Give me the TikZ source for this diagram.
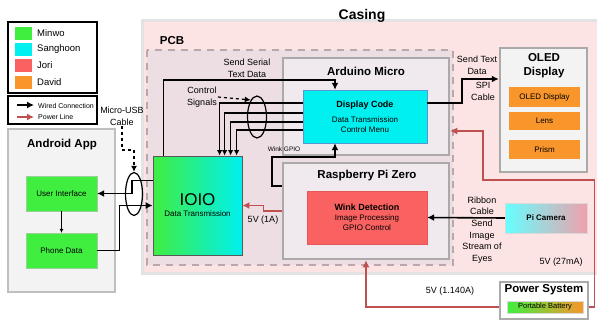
\documentclass[tikz,border=0pt]{standalone}
\usepackage{fontspec}
\setmainfont{Liberation Sans}
\usetikzlibrary{arrows.meta,shapes.geometric}

\definecolor{minwogreen}{RGB}{64,238,64}
\definecolor{sanghooncyan}{RGB}{0,240,240}
\definecolor{jorired}{RGB}{250,98,98}
\definecolor{davidorange}{RGB}{248,150,44}
\definecolor{casingpink}{RGB}{252,228,228}
\definecolor{casingedge}{RGB}{228,226,226}
\definecolor{pcbmauve}{RGB}{236,222,226}
\definecolor{pcbedge}{RGB}{186,166,172}
\definecolor{boardgray}{RGB}{240,234,238}
\definecolor{edgegray}{RGB}{170,170,170}
\definecolor{appgray}{RGB}{243,243,243}
\definecolor{powerred}{RGB}{192,80,80}
\definecolor{campink}{RGB}{240,160,172}

\tikzset{
  box/.style={draw=edgegray, line width=2.5pt, fill=boardgray, inner sep=0pt},
  part/.style={inner sep=0pt, align=center, font=\fontsize{8}{10}\selectfont},
  title/.style={font=\bfseries\fontsize{11.5}{13}\selectfont, align=center, inner sep=0pt},
  lbl/.style={font=\fontsize{9}{11.6}\selectfont, align=center, inner sep=1pt},
  wire/.style={-{Latex[length=7pt,width=7pt]}, line width=1.6pt},
  pline/.style={-{Latex[length=7pt,width=7pt]}, powerred, line width=1.3pt},
  sig/.style={-{Latex[length=6pt,width=6pt]}, line width=1.2pt, dashed},
}

\begin{document}
\begin{tikzpicture}[x=1pt, y=-1pt]
  \useasboundingbox (0,0) rectangle (597,322);

  % legend
  \draw[line width=1.5pt, fill=white] (8,22) rectangle (97,93);
  \foreach \y/\c/\n in {33.5/minwogreen/Minwo, 49.5/sanghooncyan/Sanghoon,
                        65.5/jorired/Jori, 82/davidorange/David} {
    \fill[\c] (15,\y-6.5) rectangle (32,\y+6.5);
    \node[anchor=west, inner sep=0pt, font=\fontsize{9.5}{11}\selectfont] at (37,\y) {\n};
  }
  \draw[line width=1.5pt, fill=white] (8,96) rectangle (97,124);
  \draw[wire] (17,105) -- (34,105);
  \node[anchor=west, inner sep=0pt, font=\fontsize{7}{8}\selectfont] at (38,106) {Wired Connection};
  \draw[pline] (17,117) -- (34,117);
  \node[anchor=west, inner sep=0pt, font=\fontsize{7}{8}\selectfont] at (38,117) {Power Line};

  % casing and pcb
  \draw[casingedge, line width=3pt, fill=casingpink] (142,20) rectangle (600,273);
  \node[font=\bfseries\fontsize{14}{16}\selectfont] (casing) at (362,16) {Casing};
  \draw[pcbedge, line width=2.5pt, dash pattern=on 7pt off 6pt, fill=pcbmauve] (147,50) rectangle (453,265);
  \node[title] (pcb) at (172,41) {PCB};

  % arduino micro
  \node[box, minimum width=166pt, minimum height=97pt] (ard) at (366,106.5) {};
  \node[title] (ardtitle) at (366,71) {Arduino Micro};
  \node[part, draw=cyan!60!blue!70, fill=sanghooncyan, minimum width=124pt, minimum height=53pt]
    (disp) at (365,116.5) {\textbf{\fontsize{9}{11}\selectfont Display Code}\\[5pt]Data Transmission\\Control Menu};

  % raspberry pi zero
  \node[box, minimum width=166pt, minimum height=96pt] (rpi) at (366,211) {};
  \node[title] (rpititle) at (367,176) {Raspberry Pi Zero};
  \node[part, draw=jorired!90!black, fill=jorired, minimum width=120pt, minimum height=53pt]
    (wink) at (367,217.5) {\textbf{\fontsize{9}{11}\selectfont Wink Detection}\\Image Processing\\GPIO Control};

  % ioio
  \node[part, draw=black!65, line width=0.8pt, left color=minwogreen, right color=sanghooncyan,
    minimum width=89pt, minimum height=99pt] (ioio) at (197.5,205.5)
    {{\fontsize{17}{19}\selectfont IOIO}\\[1pt]Data Transmission};

  % android app
  \node[draw=black!25, line width=2.5pt, fill=appgray, minimum width=107pt, minimum height=163pt]
    (app) at (61.5,210.5) {};
  \node[title] (apptitle) at (62,145) {Android App};
  \node[part, draw=green!55!black!40, fill=minwogreen, minimum width=71pt, minimum height=35pt]
    (ui) at (61.5,193.5) {User Interface};
  \node[part, draw=green!55!black!40, fill=minwogreen, minimum width=71pt, minimum height=35pt]
    (phone) at (61.5,250.5) {Phone Data};

  % oled display
  \node[draw=edgegray, line width=2.5pt, fill=appgray, minimum width=87pt, minimum height=124pt]
    (oled) at (543.5,110) {};
  \node[title, font=\bfseries\fontsize{11.5}{14}\selectfont] (oledtitle) at (544,66) {OLED\\Display};
  \node[part, fill=davidorange, minimum width=71pt, minimum height=20pt] (screen) at (544.5,97) {OLED Display};
  \node[part, fill=davidorange, minimum width=71pt, minimum height=18pt] (lens) at (544.5,121) {Lens};
  \node[part, fill=davidorange, minimum width=71pt, minimum height=19pt] (prism) at (544.5,149.5) {Prism};

  % pi camera
  \node[part, draw=black!15, left color=cyan!60, right color=campink, minimum width=82pt,
    minimum height=30pt, font=\bfseries\fontsize{8}{10}\selectfont] (cam) at (546,218) {Pi Camera};

  % power system
  \node[draw=edgegray, line width=2.5pt, fill=white, minimum width=88pt, minimum height=37pt]
    (pwr) at (544,300.5) {};
  \node[title] (pwrtitle) at (544,290) {Power System};
  \node[part, draw=black!15, left color=minwogreen, right color=davidorange, minimum width=76pt,
    minimum height=12pt, font=\fontsize{7.5}{9}\selectfont] (batt) at (545,307) {Portable Battery};

  % labels
  \node[lbl] (seriallbl) at (247,68.5) {Send Serial\\Text Data};
  \node[lbl] (ctrl) at (202,97) {Control\\Signals};
  \node[lbl] (usbtxt) at (122,116) {Micro-USB\\Cable};
  \node[lbl, font=\fontsize{6.5}{8}\selectfont] (winklbl) at (284,149) {Wink GPIO};
  \node[lbl] (onealbl) at (263,220) {5V (1A)};
  \node[lbl] (ribbonlbl) at (482,230) {Ribbon\\Cable\\Send\\Image\\Stream of\\Eyes};
  \node[lbl] (spitxt) at (477,65.5) {Send Text\\Data};
  \node[lbl] (spilbl) at (483,91.5) {SPI\\Cable};
  \node[lbl] (camlbl) at (561,262) {5V (27mA)};
  \node[lbl] (battlbl) at (450,291) {5V (1.140A)};

  % wired connections
  \draw[wire] ([xshift=11pt]ioio.north west) |- ([xshift=-30pt,yshift=10pt]disp.north)
    -- ([xshift=-30pt]disp.north);
  \foreach \dy/\dx in {13/67, 23/72, 32/78, 40/84}
    \draw[wire, -{Latex[length=5.5pt,width=5.5pt]}] ([yshift=-\dy pt]disp.north west)
      -| ([xshift=\dx pt]ioio.north west);
  \node[draw, ellipse, line width=1.2pt, minimum width=19pt, minimum height=42pt, inner sep=0pt]
    (bundle) at (257,117) {};
  \draw[sig] (ctrl.east) -- (bundle.110);

  \draw[wire] ([yshift=-25pt]ioio.north west) -| ([xshift=35pt]ui.east) -- (ui.east);
  \draw[wire] (phone.east) -| ([xshift=-33pt]ioio.west) -- (ioio.west);
  \draw[-{Latex[length=4pt,width=4pt]}, line width=0.6pt] (ui) -- (phone);
  \node[draw, ellipse, line width=1.2pt, minimum width=17pt, minimum height=43pt, inner sep=0pt]
    (usb) at (134,194) {};
  \draw[sig] (usbtxt.south) |- ([yshift=22pt]usb.north) -- (usb.north);

  \draw[wire] ([yshift=-24pt]rpi.north west) -- ++(-10,0)
    |- ([xshift=-30pt,yshift=-14pt]disp.south) -- ([xshift=-30pt]disp.south);
  \draw[wire] ([yshift=-13pt]disp.north east) -| ([xshift=-37pt,yshift=31pt]oled.west)
    -- ([yshift=31pt]oled.west);
  \draw[wire] (cam.west) -- (wink.east);

  % power lines
  \draw[pline] (rpi.west) -| ([xshift=21pt]ioio.east) -- (ioio.east);
  \draw[pline] (pwr.east |- batt) -- ++(5,0) |- (483,180) |- ([yshift=-24.5pt]ard.east);
  \draw[pline] (pwr.west |- batt) -| (rpi.south);
\end{tikzpicture}
\end{document}
